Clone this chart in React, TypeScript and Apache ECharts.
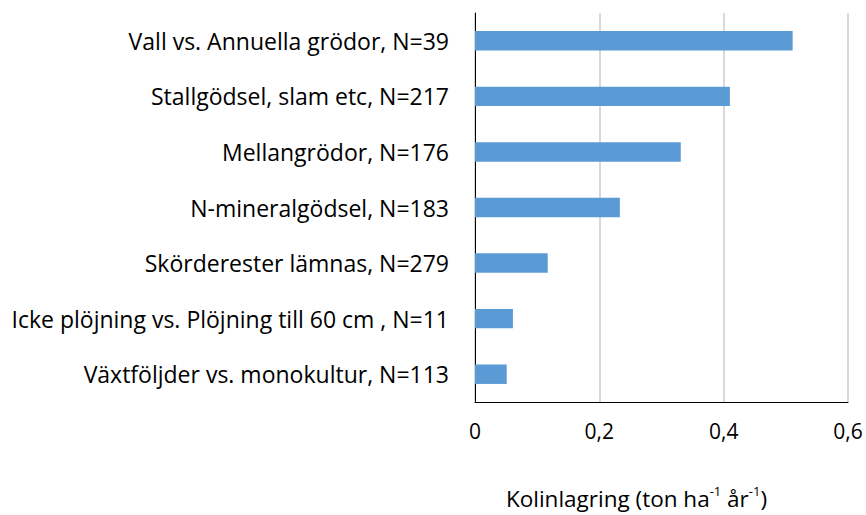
import React, { useEffect, useRef } from "react";
import * as echarts from "echarts";

const categories = [
  "Vall vs. Annuella grödor, N=39",
  "Stallgödsel, slam etc, N=217",
  "Mellangrödor, N=176",
  "N-mineralgödsel, N=183",
  "Skörderester lämnas, N=279",
  "Icke plöjning vs. Plöjning till 60 cm , N=11",
  "Växtföljder vs. monokultur, N=113",
];
const values = [0.511, 0.41, 0.331, 0.233, 0.117, 0.061, 0.051];
const xMin = 0;
const xMax = 0.6;
const xStep = 0.2;

const FONT = "Open Sans";

export default function App() {
  const ref = useRef<HTMLDivElement>(null);
  useEffect(() => {
    const chart = echarts.init(ref.current!, null, { renderer: "svg" });
    chart.setOption({
      animation: false,
      backgroundColor: "#ffffff",
      grid: { left: 475, right: 18, top: 13, bottom: 113, containLabel: false },
      xAxis: {
        type: "value",
        min: xMin,
        max: xMax,
        interval: xStep,
        axisLine: { show: true, lineStyle: { color: "#000000", width: 1 } },
        axisTick: { show: false },
        splitLine: { show: true, lineStyle: { color: "#d9d9d9", width: 2 } },
        axisLabel: {
          color: "#000000",
          fontFamily: FONT,
          fontSize: 21,
          margin: 18,
          formatter: (v: number) => String(Math.round(v * 10) / 10).replace(".", ","),
        },
        name: "{a|Kolinlagring (ton ha}{s|-1}{a| år}{s|-1}{a|)}",
        nameLocation: "middle",
        nameGap: 82,
        nameTextStyle: {
          padding: [0, 50, 0, 0],
          rich: {
            a: { fontFamily: FONT, fontSize: 22.5, color: "#000000", lineHeight: 26, verticalAlign: "bottom" },
            s: { fontFamily: FONT, fontSize: 13, color: "#000000", lineHeight: 24, verticalAlign: "top" },
          },
        },
      },
      yAxis: {
        type: "category",
        data: categories,
        inverse: true,
        axisLine: { show: true, lineStyle: { color: "#000000", width: 1 } },
        axisTick: { show: false },
        axisLabel: { color: "#000000", fontFamily: FONT, fontSize: 23, margin: 26 },
      },
      series: [
        {
          type: "bar",
          data: values,
          barWidth: "35%",
          itemStyle: { color: "#5b9bd5" },
        },
      ],
    });
    return () => chart.dispose();
  }, []);
  return <div ref={ref} style={{ width: 866, height: 515, position: "absolute", left: 0, top: 0 }} />;
}
